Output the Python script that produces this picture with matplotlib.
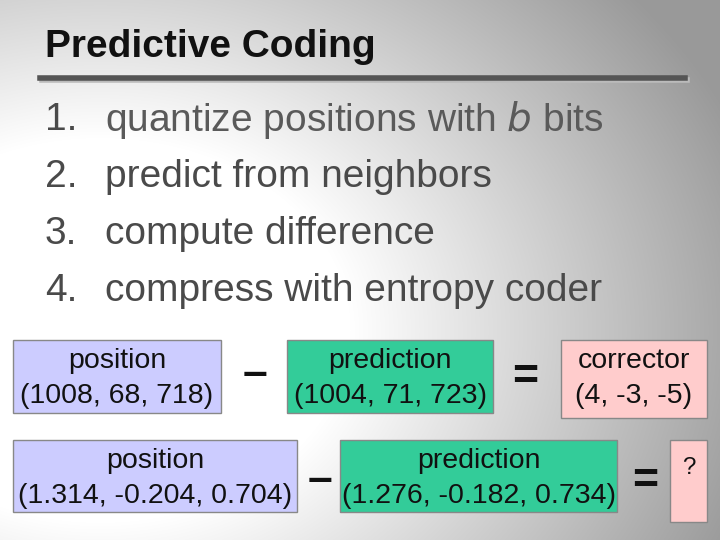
import numpy as np
import matplotlib
matplotlib.use("Agg")
import matplotlib.pyplot as plt
from matplotlib.patches import Rectangle

title = "Predictive Coding"
steps = ["quantize positions with $\\it{b}$ bits", "predict from neighbors", "compute difference", "compress with entropy coder"]
row1 = [("position", "(1008, 68, 718)"), ("prediction", "(1004, 71, 723)"), ("corrector", "(4, -3, -5)")]
row2 = [("position", "(1.314, -0.204, 0.704)"), ("prediction", "(1.276, -0.182, 0.734)"), ("", "?")]

plt.rcParams["font.family"] = "Liberation Sans"
fig = plt.figure(figsize=(7.2, 5.4), dpi=100)
ax = fig.add_axes([0, 0, 1, 1])
ax.set_xlim(0, 720); ax.set_ylim(540, 0); ax.axis("off")

yy, xx = np.mgrid[0:540, 0:720]
d = np.sqrt((xx - 100) ** 2 + ((yy - 330) * 1.3) ** 2)
v = np.clip(1 - (d - 250) / 1100, 0.6, 1.0)
ax.imshow(np.dstack([v, v, v]), extent=(0, 720, 540, 0), zorder=0)

ax.text(45, 47, title, fontsize=28, fontweight="bold", color="#111111", va="center")
ax.plot([42, 687], [80, 80], color="#bbbbbb", lw=4, zorder=1)
ax.plot([40, 685], [78, 78], color="#555555", lw=4, zorder=2)

for i, s in enumerate(steps):
    y = 120 + 57 * i
    col = "#4a4a4a"
    ax.text(45, y, f"{i+1}.", fontsize=28, color=col, va="center")
    ax.text(105, y, s, fontsize=28, color=col if i else "#5a5a5a", va="center")

def box(x0, x1, y0, y1, fc, lines, fs=20.5, ty=None):
    ax.add_patch(Rectangle((x0, y0), x1 - x0, y1 - y0, fc=fc, ec="#888888", lw=1, zorder=3))
    cx = (x0 + x1) / 2
    if lines[0]:
        ax.text(cx, y0 + 21, lines[0], fontsize=fs, ha="center", va="center", color="#111111", zorder=4)
        ax.text(cx, y0 + 56, lines[1], fontsize=fs, ha="center", va="center", color="#111111", zorder=4)
    else:
        ax.text(cx, ty, lines[1], fontsize=fs - 3, ha="center", va="center", color="#111111", zorder=4)

lav, grn, pnk = "#ccccff", "#33cc99", "#ffcccc"
box(13, 221, 340, 413, lav, row1[0])
box(287, 493, 340, 413, grn, row1[1])
box(561, 707, 340, 418, pnk, row1[2])
box(13, 297, 440, 512, lav, row2[0])
box(340, 617, 440, 512, grn, row2[1])
box(670, 707, 440, 522, pnk, row2[2], ty=468)

for x, y, s in [(255, 375, "–"), (525, 378, "="), (320, 481, "–"), (645, 482, "=")]:
    ax.text(x, y, s, fontsize=32, fontweight="bold", ha="center", va="center", color="#111111")

fig.savefig("out.png", dpi=100)
